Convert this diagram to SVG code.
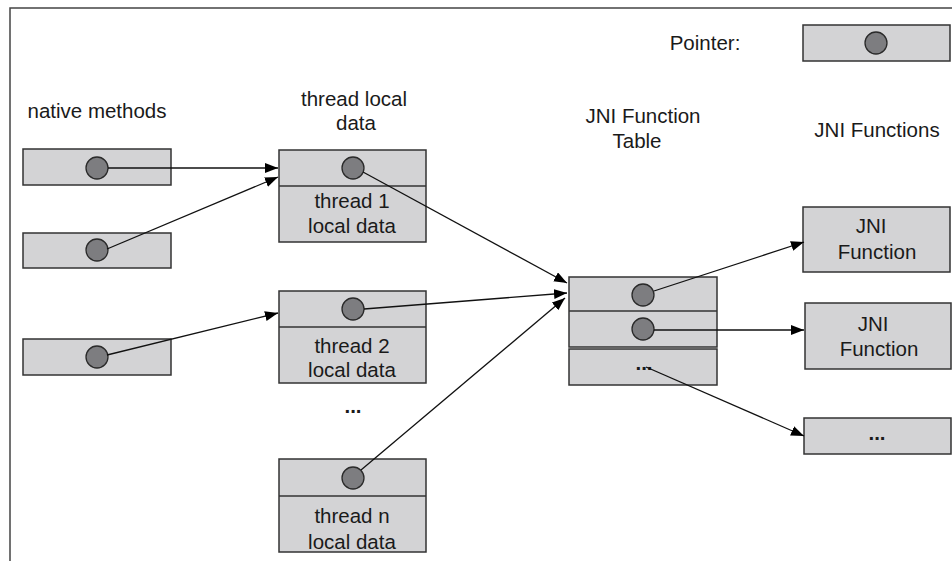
<svg xmlns="http://www.w3.org/2000/svg" width="952" height="561" viewBox="0 0 952 561">
<style>
.box{fill:#d3d3d5;stroke:#333;stroke-width:1.5}
.dot{fill:#7d7d80;stroke:#2a2a2a;stroke-width:1.3}
.sep{stroke:#333;stroke-width:1.5}
text{font-family:"Liberation Sans",Arial,sans-serif;font-size:20.5px;fill:#1a1a1a;text-anchor:middle}
text.ell{font-weight:bold}
.conn line{stroke:#111;stroke-width:1.3;marker-end:url(#ah)}
</style>
<defs>
<marker id="ah" markerWidth="15" markerHeight="11" refX="13" refY="5" orient="auto" markerUnits="userSpaceOnUse">
<path d="M0,0 L13,5 L0,10 z" fill="#000"/>
</marker>
</defs>
<rect width="952" height="561" fill="#fff"/>
<path d="M10,561 L10,8 L952,8" fill="none" stroke="#444" stroke-width="1.5"/>

<g id="legend">
<text x="705" y="50">Pointer:</text>
<rect class="box" x="803" y="25" width="147" height="36"/>
<circle class="dot" cx="876" cy="43" r="11"/>
</g>

<g id="labels">
<text x="97" y="118">native methods</text>
<text x="354" y="106">thread local</text>
<text x="356" y="130">data</text>
<text x="643" y="123">JNI Function</text>
<text x="637" y="148">Table</text>
<text x="877" y="137">JNI Functions</text>
</g>

<g id="native1">
<rect class="box" x="23" y="149" width="148" height="36"/>
<circle class="dot" cx="97" cy="168" r="11"/>
</g>
<g id="native2">
<rect class="box" x="23" y="233" width="148" height="35"/>
<circle class="dot" cx="97" cy="250" r="11"/>
</g>
<g id="native3">
<rect class="box" x="23" y="339" width="148" height="36"/>
<circle class="dot" cx="97" cy="357" r="11"/>
</g>

<g id="thread1">
<rect class="box" x="279" y="150" width="147" height="92"/>
<line class="sep" x1="279" y1="186" x2="426" y2="186"/>
<circle class="dot" cx="353" cy="168" r="11"/>
<text x="352" y="208">thread 1</text>
<text x="352" y="233">local data</text>
</g>
<g id="thread2">
<rect class="box" x="279" y="291" width="147" height="92"/>
<line class="sep" x1="279" y1="327" x2="426" y2="327"/>
<circle class="dot" cx="353" cy="309" r="11"/>
<text x="352" y="353">thread 2</text>
<text x="352" y="377">local data</text>
</g>
<g id="threadDots">
<text class="ell" x="353" y="413">...</text>
</g>
<g id="threadn">
<rect class="box" x="279" y="459" width="147" height="93"/>
<line class="sep" x1="279" y1="496" x2="426" y2="496"/>
<circle class="dot" cx="353" cy="478" r="11"/>
<text x="352" y="523">thread n</text>
<text x="352" y="549">local data</text>
</g>

<g id="jniTable">
<rect class="box" x="569" y="277" width="148" height="70"/>
<line class="sep" x1="569" y1="311" x2="717" y2="311"/>
<rect class="box" x="569" y="349" width="148" height="36"/>
<circle class="dot" cx="643" cy="295" r="11"/>
<circle class="dot" cx="643" cy="329" r="11"/>
<text class="ell" x="644" y="370">...</text>
</g>

<g id="jniFunc1">
<rect class="box" x="803" y="207" width="147" height="65"/>
<text x="871" y="233">JNI</text>
<text x="877" y="259">Function</text>
</g>
<g id="jniFunc2">
<rect class="box" x="805" y="303" width="146" height="66"/>
<text x="873" y="331">JNI</text>
<text x="879" y="356">Function</text>
</g>
<g id="jniFunc3">
<rect class="box" x="804" y="418" width="147" height="36"/>
<text class="ell" x="877" y="440">...</text>
</g>

<g id="connectors" class="conn">
<line x1="108" y1="168" x2="278" y2="168"/>
<line x1="107" y1="249" x2="278" y2="177"/>
<line x1="107" y1="355" x2="278" y2="313"/>
<line x1="363" y1="172" x2="567" y2="283"/>
<line x1="364" y1="309" x2="567" y2="293"/>
<line x1="361" y1="470" x2="565" y2="298"/>
<line x1="654" y1="291" x2="804" y2="242"/>
<line x1="654" y1="330" x2="804" y2="330"/>
<line x1="646" y1="367" x2="804" y2="436"/>
</g>
</svg>
